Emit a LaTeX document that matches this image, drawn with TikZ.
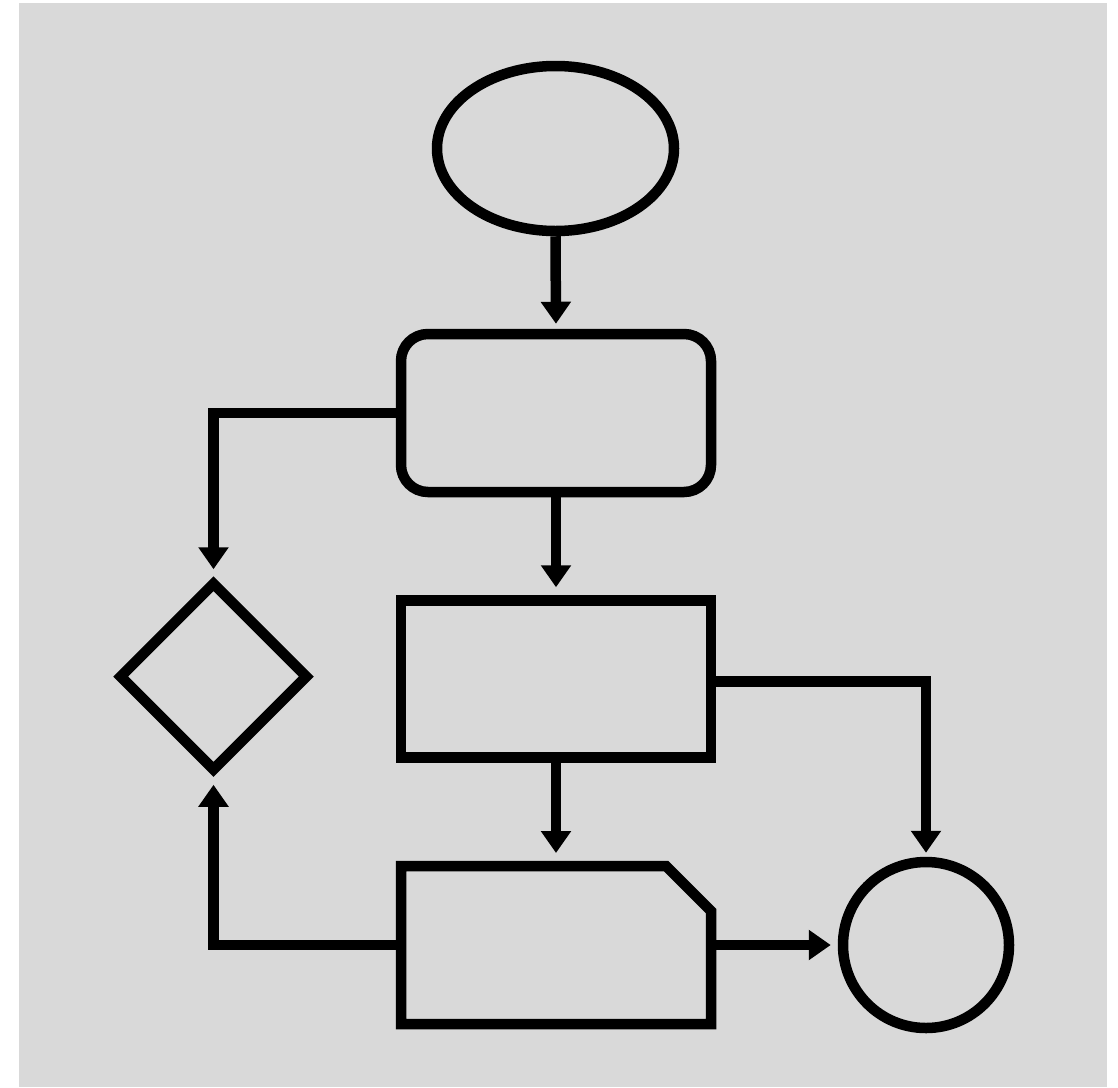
\documentclass[tikz,border=0pt]{standalone}
\usetikzlibrary{shapes.geometric,arrows.meta}
\definecolor{bggray}{HTML}{D9D9D9}
\begin{document}
\begin{tikzpicture}[x=1pt,y=-1pt,
  shapeline/.style={draw=black,line width=10.5pt,inner sep=0pt,outer sep=5.25pt,line join=miter},
  conn/.style={draw=black,line width=10.5pt,line join=miter,-{Triangle[length=22pt,width=29pt]}}]
\useasboundingbox (0,0) rectangle (1118,1087);
\fill[bggray] (19,3) rectangle (1107,1087);
\node[shapeline,ellipse,minimum width=237pt,minimum height=165pt] (start) at (555.5,148.5) {};
\node[shapeline,rectangle,rounded corners=27pt,minimum width=310pt,minimum height=158pt] (proc) at (556,413) {};
\node[shapeline,rectangle,minimum width=310pt,minimum height=157pt] (box) at (556,679) {};
\node[rectangle,inner sep=0pt,outer sep=0pt,minimum width=310pt,minimum height=158pt] (doc) at (556,945) {};
\draw[line width=10.5pt,line join=miter] (doc.south west) -- (doc.north west) -- ([xshift=-45pt]doc.north east) -- ([yshift=-45pt]doc.north east) -- (doc.south east) -- cycle;
\node[shapeline,circle,minimum size=166pt] (end) at (926,945) {};
\node[shapeline,diamond,aspect=1,minimum width=190pt,minimum height=190pt] (dec) at (213.5,676.5) {};
\draw[conn,shorten >=5pt] (start.south) -- (proc.north);
\draw[conn,shorten >=8pt] (proc.south) -- (box.north);
\draw[conn,shorten >=13pt] (box.south) -- (doc.north);
\draw[conn,shorten >=7pt] (proc.west) -| (dec.north);
\draw[conn,shorten >=4pt] ([yshift=-2.5pt]box.east) -| (end.north);
\draw[conn,shorten >=8pt] (doc.west) -| (dec.south);
\draw[conn,shorten >=7pt] (doc.east) -- (end.west);
\end{tikzpicture}
\end{document}
